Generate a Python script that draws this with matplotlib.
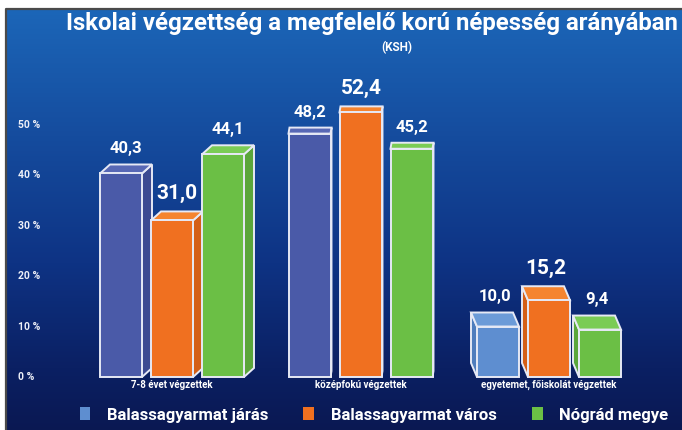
import numpy as np
import matplotlib
matplotlib.use('Agg')
import matplotlib.pyplot as plt
from matplotlib.patches import Polygon, Rectangle, Patch
from matplotlib.colors import LinearSegmentedColormap
from matplotlib import font_manager as fm

# data
categories = ['7-8 évet végzettek', 'középfokú végzettek', 'egyetemet, főiskolát végzettek']
series = ['Balassagyarmat járás', 'Balassagyarmat város', 'Nógrád megye']
jaras = [40.3, 48.2, 10.0]
varos = [31.0, 52.4, 15.2]
megye = [44.1, 45.2, 9.4]
ytick_vals = [0, 10, 20, 30, 40, 50]

FONT = dict(family='Roboto', weight='bold')

W, H = 682, 430
fig = plt.figure(figsize=(W / 100, H / 100), dpi=100)
fig.patch.set_facecolor('white')
ax = fig.add_axes([0, 0, 1, 1])
ax.axis('off')

# scale: group spacing in px, px per percent, baseline in px
GX, X0 = 188.5, 172.0
PY, Y0 = 5.05, 377.0
def ux(px): return (px - X0) / GX
def uy(py): return (Y0 - py) / PY
ax.set_xlim(ux(0), ux(W))
ax.set_ylim(uy(H), uy(0))

# gradient background + frame
cmap = LinearSegmentedColormap.from_list('bg', [(0.0, '#1c66b8'), (0.3, '#154c9e'),
                                               (0.6, '#0e3384'), (0.85, '#0b2063'),
                                               (1.0, '#0a1852')])
grad = np.linspace(0, 1, 256).reshape(-1, 1)
ax.imshow(grad, cmap=cmap, extent=[ux(6), ux(W + 2), uy(H + 2), uy(9)], aspect='auto', zorder=0)
ax.plot([ux(5.5), ux(5.5), ux(W + 2)], [uy(H + 2), uy(8.5), uy(8.5)], color='#4a4a4a', lw=1.6, zorder=1)

x = np.arange(len(categories))
off = 51 / GX
bw = 42 / GX
# depth of the fake 3d per group (px right, px up)
depth = [(10, 9), (1, 6), (-6, 14)]

front_cols = [['#4a5aa8', '#4a5aa8', '#5e8ed0'], '#f07020', '#6bbf45']
side_cols = [['#3d4b92', '#3d4b92', '#4f7dbd'], '#d45f18', '#5aa63a']
top_cols = [['#5868b5', '#5868b5', '#6c9bd8'], '#f5842f', '#7acc55']
edge = '#e6e9f5'

def pick(c, i):
    return c[i] if isinstance(c, list) else c

def bar3d(xc, h, fc, sc, tc, dxp, dyp):
    dx, dy = dxp / GX, dyp / PY
    x0, x1 = xc - bw / 2, xc + bw / 2
    if dx >= 0:
        side = [(x1, 0), (x1 + dx, dy), (x1 + dx, h + dy), (x1, h)]
    else:
        side = [(x0, 0), (x0 + dx, dy), (x0 + dx, h + dy), (x0, h)]
    top = [(x0, h), (x1, h), (x1 + dx, h + dy), (x0 + dx, h + dy)]
    ax.add_patch(Polygon(side, closed=True, fc=sc, ec=edge, lw=1.4, zorder=3))
    ax.add_patch(Polygon(top, closed=True, fc=tc, ec=edge, lw=1.4, zorder=3))
    ax.add_patch(Rectangle((x0, 0), bw, h, fc=fc, ec=edge, lw=1.4, zorder=4))

for si, vals in enumerate([jaras, varos, megye]):
    for gi, v in enumerate(vals):
        xc = x[gi] + (si - 1) * off
        dxp, dyp = depth[gi]
        bar3d(xc, v, pick(front_cols[si], gi), pick(side_cols[si], gi), pick(top_cols[si], gi), dxp, dyp)
        big = si == 1
        ax.text(xc + dxp / GX / 2, v + dyp / PY + 1.6, f'{v:.1f}'.replace('.', ','),
                ha='center', va='bottom', color='white', fontsize=15 if big else 12,
                zorder=5, **FONT)

# y labels
for t in ytick_vals:
    ax.text(ux(18), t, f'{t} %', ha='left', va='center', color='#eef0f8', fontsize=7.5, **FONT)

# category labels
for gi, c in enumerate(categories):
    ax.text(x[gi], uy(385), c, ha='center', va='center', color='white', fontsize=7, **FONT)

# title, fitted to the width it has in the original
title = ax.text(ux(66), uy(23), 'Iskolai végzettség a megfelelő korú népesség arányában',
                ha='left', va='center', color='white', fontsize=17, **FONT)
r = fig.canvas.get_renderer()
tw = title.get_window_extent(r).width
title.set_fontsize(17 * 614 / tw)
ax.text(ux(397), uy(48), '(KSH)', ha='center', va='center', color='white', fontsize=8.5, **FONT)

handles = [Patch(fc='#5e8ed0', ec='none'), Patch(fc='#f07020', ec='none'), Patch(fc='#6bbf45', ec='none')]
leg = ax.legend(handles, series, loc='center', bbox_to_anchor=(374 / W, 1 - 415 / H),
                ncol=3, frameon=False, handlelength=0.65, handleheight=0.8,
                handletextpad=1.0, columnspacing=2.1,
                prop=fm.FontProperties(size=12, **FONT))
for t in leg.get_texts():
    t.set_color('white')

fig.savefig('out.png', dpi=100, facecolor=fig.get_facecolor())
